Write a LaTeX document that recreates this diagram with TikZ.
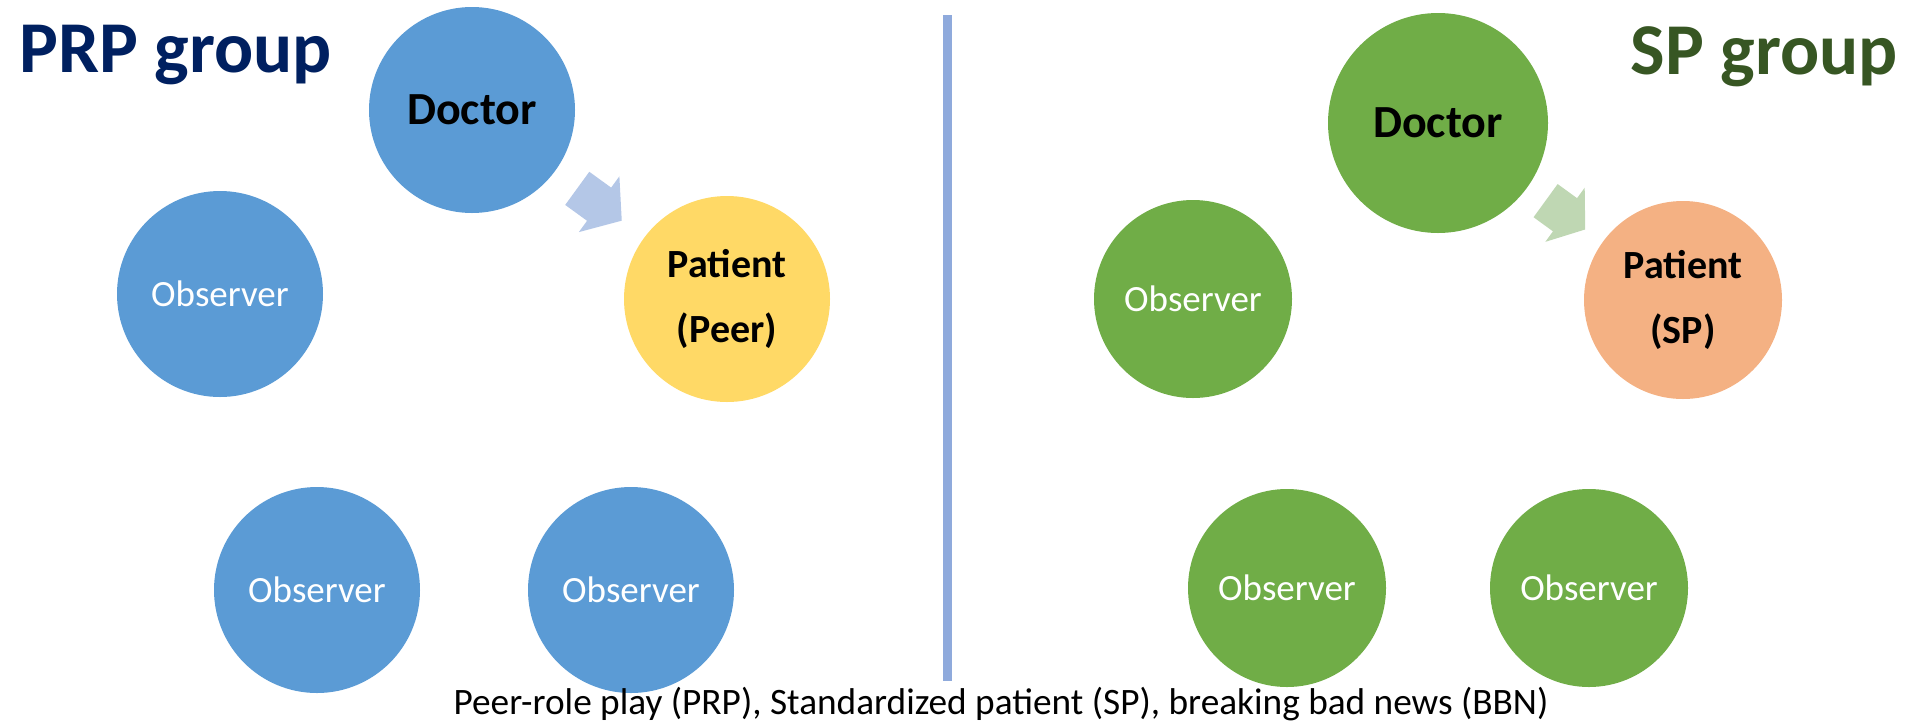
\documentclass[tikz,border=0pt]{standalone}
\usepackage{fontspec}
\setmainfont{Carlito}
\usepackage{tikz}
\usetikzlibrary{calc}

\definecolor{prpnavy}{HTML}{002060}
\definecolor{spdark}{HTML}{375623}
\definecolor{prpblue}{HTML}{5B9BD5}
\definecolor{spgreen}{HTML}{70AD47}
\definecolor{peeryellow}{HTML}{FFD966}
\definecolor{sporange}{HTML}{F4B183}
\definecolor{arrowblue}{HTML}{B4C7E7}
\definecolor{arrowgreen}{HTML}{BFD7B3}
\definecolor{linkblue}{HTML}{8FAADC}

\tikzset{
  role/.style={circle, inner sep=0pt, align=center},
  prprole/.style={role, fill=prpblue, minimum size=206pt},
  sprole/.style={role, fill=spgreen, minimum size=198pt},
  doctext/.style={font=\bfseries\fontsize{46}{55}\selectfont},
  pattext/.style={font=\bfseries\fontsize{40}{65}\selectfont},
  obstext/.style={text=white, font=\fontsize{37}{44}\selectfont},
  grouptitle/.style={inner sep=0pt, font=\bfseries\fontsize{73}{88}\selectfont}
}

\begin{document}
\begin{tikzpicture}[x=1pt,y=-1pt]
\useasboundingbox (0,0) rectangle (1905,724);

% titles
\path (19,72) node (prptitle) [grouptitle, anchor=base west, text=prpnavy] {PRP group};
\path (1898,74) node (sptitle) [grouptitle, anchor=base east, text=spdark] {SP group};

% PRP group
\path (472,110) node (docA) [prprole, doctext] {Doctor};
\path (727,299) node (patA) [prprole, pattext, fill=peeryellow] {Patient\\(Peer)};
\path (220,294) node (obsA1) [prprole, obstext] {Observer};
\path (317,590) node (obsA2) [prprole, obstext] {Observer};
\path (631,590) node (obsA3) [prprole, obstext] {Observer};

% SP group
\path (1438,123) node (docB) [sprole, doctext, minimum size=220pt] {Doctor};
\path (1683,300) node (patB) [sprole, pattext, fill=sporange] {Patient\\(SP)};
\path (1193,299) node (obsB1) [sprole, obstext] {Observer};
\path (1287,588) node (obsB2) [sprole, obstext] {Observer};
\path (1589,588) node (obsB3) [sprole, obstext] {Observer};

% block arrows doctor -> patient
\coordinate (midA) at ($(docA)!0.5!(patA)$);
\coordinate (midB) at ($(docB)!0.52!(patB)$);
\fill[arrowblue, shift={(midA)}, rotate=-36]
  (-27.5,-20.5) -- (-0.5,-20.5) -- (-0.5,-34.5) -- (27.5,0)
  -- (-0.5,34.5) -- (-0.5,20.5) -- (-27.5,20.5) -- cycle;
\fill[arrowgreen, shift={(midB)}, rotate=-36]
  (-24.5,-20.5) -- (-0.5,-20.5) -- (-0.5,-33.5) -- (24.5,0)
  -- (-0.5,33.5) -- (-0.5,20.5) -- (-24.5,20.5) -- cycle;

% divider
\draw[linkblue, line width=9pt] (947,15) -- (947,681);

% caption
\path (1001,714) node (note) [anchor=base, inner sep=0pt, font=\fontsize{37.3}{44}\selectfont]
  {Peer-role play (PRP), Standardized patient (SP), breaking bad news (BBN)};
\end{tikzpicture}
\end{document}
